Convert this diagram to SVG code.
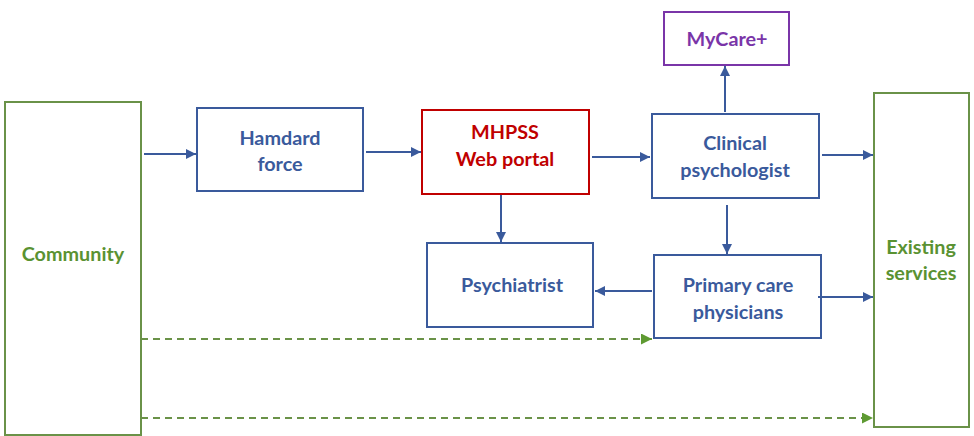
<svg xmlns="http://www.w3.org/2000/svg" width="974" height="436" viewBox="0 0 974 436">
<style>
.box{fill:#fff;stroke-width:2}
.b{stroke:#3A5A9C}
.g{stroke:#6A9248}
.r{stroke:#C00000}
.p{stroke:#7A35A8}
text{font-family:Lato,"Open Sans","Liberation Sans",sans-serif;font-weight:bold;font-size:19.8px;text-anchor:middle}
.tb{fill:#3A5A9C}
.tg{fill:#5A9232}
.tr{fill:#C00000}
.tp{fill:#7A35A8}
.c{stroke:#3A5A9C;stroke-width:2;fill:none}
.d{stroke:#6A9248;stroke-width:2;fill:none;stroke-dasharray:7,5}
</style>
<defs>
<marker id="ab" viewBox="0 0 10 10" refX="10" refY="5" markerWidth="11" markerHeight="10" markerUnits="userSpaceOnUse" orient="auto"><path d="M0,0L10,5L0,10z" fill="#3A5A9C"/></marker>
<marker id="ag" viewBox="0 0 10 10" refX="10" refY="5" markerWidth="12" markerHeight="11" markerUnits="userSpaceOnUse" orient="auto"><path d="M0,0L10,5L0,10z" fill="#5E9A32"/></marker>
</defs>
<g id="community"><rect class="box g" x="5" y="102" width="136" height="333"/><text class="tg" x="73" y="261">Community</text></g>
<g id="hamdard"><rect class="box b" x="197" y="108" width="166" height="83"/><text class="tb" x="280" y="145">Hamdard</text><text class="tb" x="280" y="171">force</text></g>
<g id="mhpss"><rect class="box r" x="422" y="110" width="167" height="84"/><text class="tr" x="505" y="139">MHPSS</text><text class="tr" x="505" y="166">Web portal</text></g>
<g id="mycare"><rect class="box p" x="664" y="12" width="125" height="53"/><text class="tp" x="727" y="46">MyCare+</text></g>
<g id="clinical"><rect class="box b" x="652" y="114" width="167" height="84"/><text class="tb" x="735" y="150">Clinical</text><text class="tb" x="735" y="177">psychologist</text></g>
<g id="existing"><rect class="box g" x="874" y="93" width="95" height="334"/><text class="tg" x="921" y="254">Existing</text><text class="tg" x="921" y="280">services</text></g>
<g id="psychiatrist"><rect class="box b" x="427" y="243" width="166" height="84"/><text class="tb" x="512" y="292">Psychiatrist</text></g>
<g id="primary"><rect class="box b" x="654" y="255" width="167" height="83"/><text class="tb" x="738" y="292">Primary care</text><text class="tb" x="738" y="319">physicians</text></g>
<g id="connectors">
<line class="c" x1="144" y1="154" x2="196" y2="154" marker-end="url(#ab)"/>
<line class="c" x1="366" y1="152" x2="421" y2="152" marker-end="url(#ab)"/>
<line class="c" x1="592" y1="157" x2="650" y2="157" marker-end="url(#ab)"/>
<line class="c" x1="725" y1="112" x2="725" y2="66" marker-end="url(#ab)"/>
<line class="c" x1="822" y1="155" x2="873" y2="155" marker-end="url(#ab)"/>
<line class="c" x1="727" y1="205" x2="727" y2="254" marker-end="url(#ab)"/>
<line class="c" x1="501" y1="195" x2="501" y2="242" marker-end="url(#ab)"/>
<line class="c" x1="652" y1="291" x2="595" y2="291" marker-end="url(#ab)"/>
<line class="c" x1="818" y1="297" x2="873" y2="297" marker-end="url(#ab)"/>
<line class="d" x1="141" y1="339" x2="652" y2="339" marker-end="url(#ag)"/>
<line class="d" x1="141" y1="418" x2="873" y2="418" marker-end="url(#ag)"/>
</g>
</svg>
